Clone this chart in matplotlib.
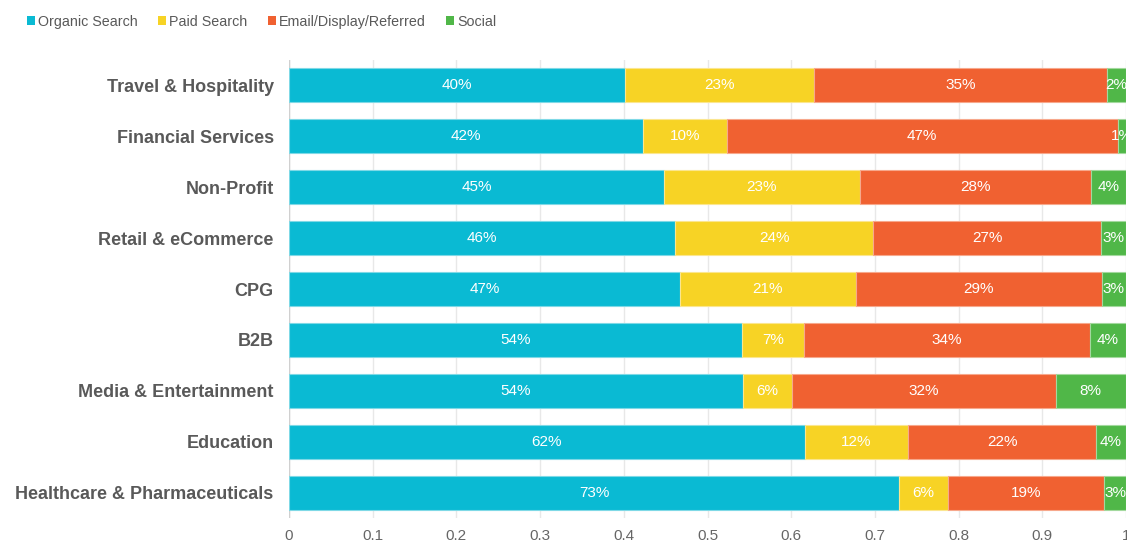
import matplotlib
matplotlib.use("Agg")
import matplotlib.pyplot as plt
from matplotlib.patches import Patch

plt.rcParams['font.family'] = ['Liberation Sans', 'DejaVu Sans']

categories = ["Travel & Hospitality", "Financial Services", "Non-Profit",
              "Retail & eCommerce", "CPG", "B2B", "Media & Entertainment",
              "Education", "Healthcare & Pharmaceuticals"]
series_names = ["Organic Search", "Paid Search", "Email/Display/Referred", "Social"]
organic = [0.401, 0.423, 0.448, 0.461, 0.467, 0.541, 0.542, 0.616, 0.729]
paid = [0.226, 0.100, 0.234, 0.237, 0.210, 0.074, 0.059, 0.124, 0.058]
email = [0.350, 0.467, 0.276, 0.272, 0.294, 0.342, 0.315, 0.224, 0.187]
social = [0.023, 0.010, 0.042, 0.030, 0.029, 0.043, 0.084, 0.036, 0.026]
xticks = [0, 0.1, 0.2, 0.3, 0.4, 0.5, 0.6, 0.7, 0.8, 0.9, 1]
xtick_labels = ["0", "0.1", "0.2", "0.3", "0.4", "0.5", "0.6", "0.7", "0.8", "0.9", "1"]

colors = ["#0ABAD3", "#F7D325", "#F06131", "#50B748"]
edges = ["#7fd9e6", "#fbe68f", "#f7a88c", "#a3d99e"]

fig = plt.figure(figsize=(11.27, 5.42), dpi=100)
ax = fig.add_axes([289/1127, 1 - 518/542, 837/1127, 458/542])

ypos = list(range(len(categories)))
left = [0.0] * len(categories)
for vals, col, ec in zip([organic, paid, email, social], colors, edges):
    bars = ax.barh(ypos, vals, left=left, height=0.667, color=col,
                   edgecolor=ec, linewidth=0.8, zorder=2)
    for b, v in zip(bars, vals):
        cx = b.get_x() + b.get_width() / 2
        ax.text(cx, b.get_y() + b.get_height() / 2, f"{round(v * 100)}%",
                ha="center", va="center", color="white", fontsize=11, zorder=3,
                clip_on=False)
    left = [l + v for l, v in zip(left, vals)]

ax.set_ylim(len(categories) - 0.5, -0.5)
ax.set_xlim(0, 1)
ax.set_yticks(ypos)
ax.set_yticklabels(categories, fontsize=13, fontweight="bold", color="#595959")
ax.set_xticks(xticks)
ax.set_xticklabels(xtick_labels, fontsize=11, color="#666666")
ax.tick_params(axis="both", length=0)
ax.tick_params(axis="y", pad=11)
ax.tick_params(axis="x", pad=8)
ax.grid(axis="x", color="#e8e8e8", linewidth=1, zorder=0)
ax.set_axisbelow(True)
for s in ax.spines.values():
    s.set_visible(False)
ax.axvline(0, color="#d0d0d0", linewidth=1, zorder=1)

handles = [Patch(facecolor=c, edgecolor="none") for c in colors]
fig.legend(handles, series_names, loc="upper left", bbox_to_anchor=(0.0125, 0.997),
           ncol=4, frameon=False, fontsize=10.3, handlelength=0.55, handleheight=0.55,
           handletextpad=0.2, columnspacing=1.45, labelcolor="#595959")

fig.savefig("out.png", dpi=100)
